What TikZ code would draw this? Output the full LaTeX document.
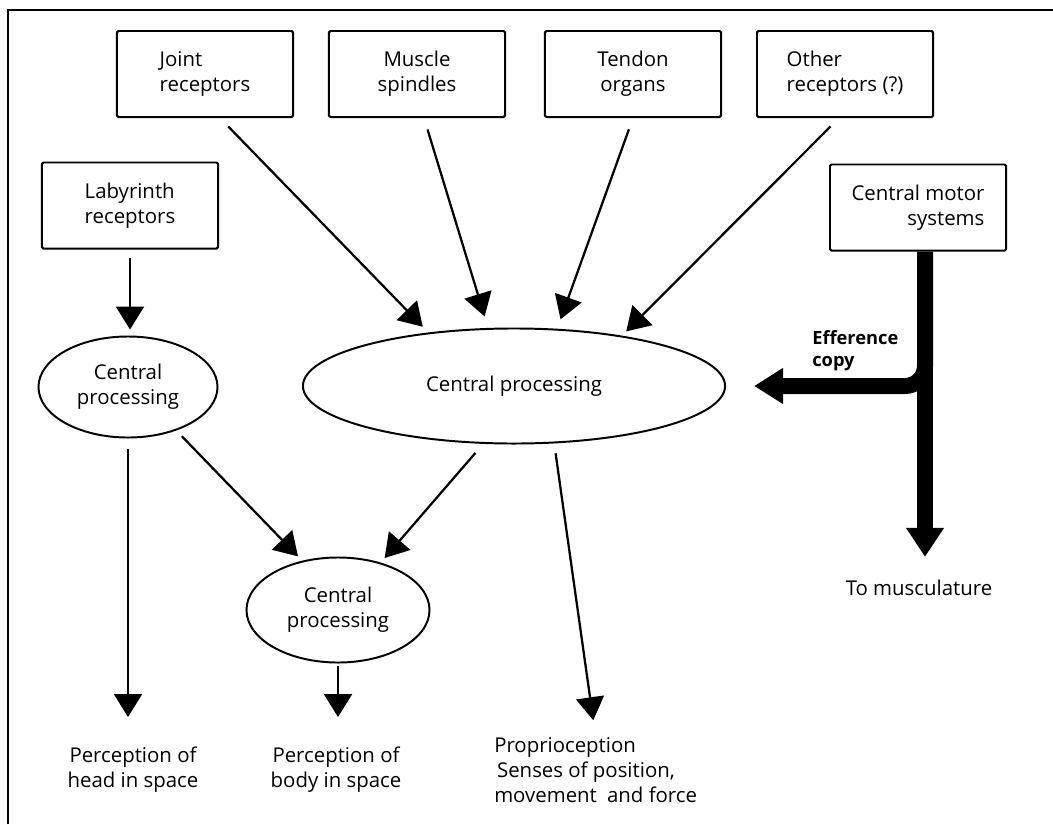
\documentclass[tikz,border=0pt]{standalone}
\usepackage{fontspec}
\setmainfont{Open Sans}
\usetikzlibrary{arrows.meta,shapes.geometric,positioning}
\tikzset{
  recbox/.style={
    draw,
    line width=1.4pt,
    rounded corners=1pt,
    minimum width=4.4cm,
    minimum height=2.15cm,
    inner sep=0pt,
    font=\fontsize{14.5}{17.7}\selectfont
  },
  proc/.style={
    draw,
    ellipse,
    line width=1.4pt,
    inner sep=0pt,
    align=center,
    font=\fontsize{14.5}{17.7}\selectfont
  },
  lbl/.style={
    inner sep=0pt,
    font=\fontsize{14.5}{17.7}\selectfont
  },
  arr/.style={
    line width=1.6pt,
    -{Triangle[length=0.575cm, width=0.7cm]}
  },
  motorarr/.style={
    line width=0.4cm,
    -{Triangle[length=0.725cm, width=0.9cm]}
  }
}
\begin{document}
\begin{tikzpicture}[x=0.025cm, y=-0.025cm]
    \useasboundingbox (0,0) rectangle (1053,824);
    \draw[line width=1.4pt] (8,824) -- (8,10) -- (1053,10);
    % receptors
    \foreach \nm/\x/\al/\txt in {joint/205/left/{Joint\\receptors}, spindle/417/center/{Muscle\\spindles}, tendon/633/center/{Tendon\\organs}, other/845/left/{Other\\receptors (?)}}{
        \node[recbox, align=\al] (\nm) at (\x,74) {\txt};
    }
    \node[recbox, align=left] (laby) at (130,205.5) {Labyrinth\\receptors};
    \node[recbox, align=right] (motor) at (918,207.5) {Central motor\\systems};
    % central processing
    \node[proc, minimum width=4.475cm, minimum height=2.525cm] (cpL) at (128,387) {Central\\processing};
    \node[proc, minimum width=10.55cm, minimum height=2.875cm] (cpC) at (514,386) {Central processing};
    \node[proc, minimum width=4.575cm, minimum height=2.625cm] (cpB) at (338,610) {Central\\processing};
    % outputs
    \node[lbl, align=center] (headsp) at (133,770) {Perception of\\head in space};
    \node[lbl, align=center] (bodysp) at (336,770) {Perception of\\body in space};
    \node[lbl, align=left, anchor=west] (proprio) at (494,770) {Proprioception\\\hspace*{2pt}Senses of position,\\movement\enspace and force};
    \node[lbl] (muscu) at (919,588) {To musculature};
    \node[lbl, align=left, anchor=west, font=\fontsize{13}{15.5}\selectfont\bfseries] (effcopy) at (812,351) {Efference\\copy};
    % arrows
    \foreach \nm/\dx/\ang/\sh in {joint/15/148/0.2cm, spindle/7/114/0.3cm, tendon/0/53/0.25cm, other/-6/25/0.15cm}{
        \draw[arr, shorten <=0.3cm, shorten >=\sh] ([xshift=\dx*0.025cm]\nm.south) -- (cpC.\ang);
    }
    \draw[arr, shorten <=0.22cm, shorten >=0.15cm] (laby.south) -- (laby.south |- cpL.north);
    \draw[arr, shorten <=0.25cm, shorten >=0.75cm] (cpL.south) -- (cpL.south |- headsp.north);
    \draw[arr, shorten <=0.2cm, shorten >=0.15cm] (cpL.-42) -- (cpB.126);
    \draw[arr, shorten <=0.3cm, shorten >=0.15cm] (cpC.242) -- (cpB.48);
    \draw[arr, shorten <=0.05cm, shorten >=0.75cm] (cpB.south) -- (cpB.south |- bodysp.north);
    \draw[arr, shorten <=0.25cm, shorten >=0.43cm] (cpC.-55) -- (proprio.north);
    % motor command and efference copy
    \draw[motorarr, shorten <=0.18cm, shorten >=0.575cm] ([xshift=0.175cm]motor.south) -- ([xshift=0.175cm]motor.south |- muscu.north);
    \draw[motorarr, -{Triangle[length=0.725cm, width=0.85cm]}, rounded corners=0.5cm, shorten >=0.7cm] ([xshift=0.175cm]motor.south) -- ([xshift=0.175cm]motor.south |- cpC.east) -- (cpC.east);
\end{tikzpicture}
\end{document}
